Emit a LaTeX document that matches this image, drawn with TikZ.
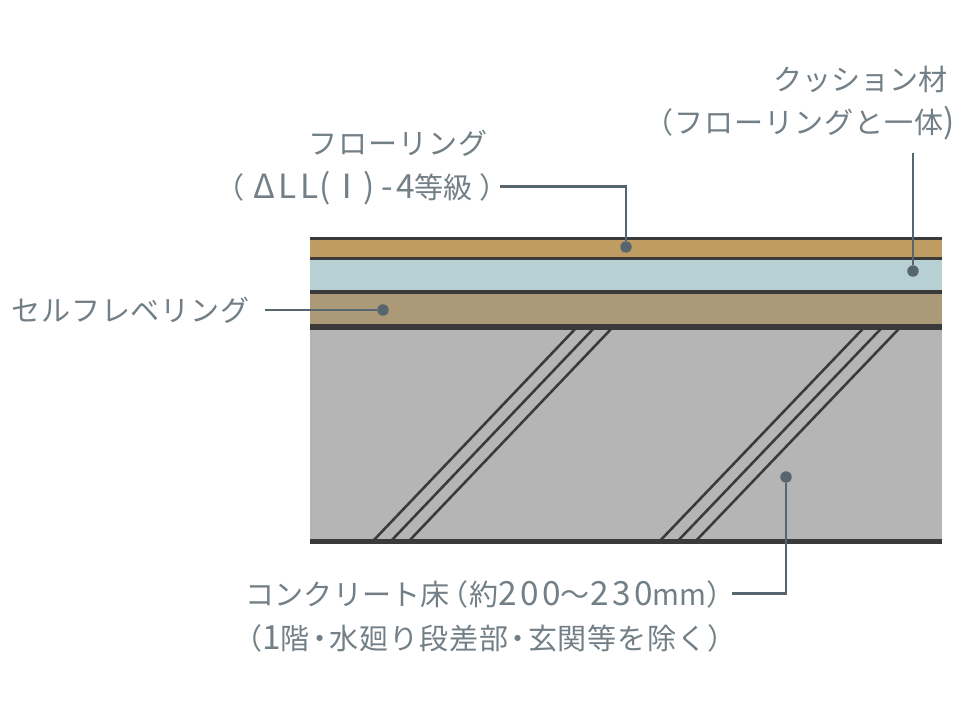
\documentclass[tikz,border=0pt]{standalone}
\usepackage{fontspec}
\setmainfont{Noto Sans CJK JP}
\newfontfamily\trackfont[LetterSpace=3]{Noto Sans CJK JP}
\newfontfamily\latfont[LetterSpace=11]{Noto Sans CJK JP}
\usepackage{tikz}
\definecolor{woodcol}{HTML}{BF9C62}
\definecolor{cushcol}{HTML}{B7D0D4}
\definecolor{levelcol}{HTML}{AB9977}
\definecolor{slabcol}{HTML}{B5B5B5}
\definecolor{edgecol}{HTML}{3B3A3A}
\definecolor{leadcol}{HTML}{56656E}
\definecolor{textcol}{HTML}{727F86}
\tikzset{
  edgeline/.style={draw=edgecol},
  rebar/.style={draw=edgecol, line width=1.9pt},
  lead/.style={draw=leadcol, line width=2.2pt},
  dot/.style={circle, fill=leadcol, minimum size=8.6pt, inner sep=0pt},
  lbl/.style={text=textcol, inner sep=0pt, font=\fontsize{21.8pt}{21.8pt}\selectfont},
}
\newcommand*{\LayerBand}[3]{% #1 = colour, #2 = top, #3 = bottom
\fill [#1] (310,#2) rectangle (942,#3);
}
\newcommand*{\Lat}[1]{{\latfont\fontsize{25pt}{25pt}\selectfont #1}}
\newcommand*{\Nakaguro}{\kern-3.5pt・\kern-3.5pt}
\begin{document}
\begin{tikzpicture}[x=0.75pt,y=-0.75pt]
    \useasboundingbox (0,0) rectangle (960,714);

    \LayerBand{woodcol}{238}{258}
    \LayerBand{cushcol}{258}{292}
    \LayerBand{levelcol}{292}{327}
    \LayerBand{slabcol}{327}{541}

    \foreach \x in {0,18,36} {
        \draw [rebar] (373+\x,541) -- (577+\x,327);
        \draw [rebar] (659.8+\x,541) -- (864.6+\x,327);
    }

    \foreach \y/\w in {238.4/2.0,258.7/2.4,291.9/2.5,327/3.9,541.5/3.6} {
        \draw [edgeline, line width=\w pt] (310,\y) -- (942,\y);
    }

    % dots
    \node [dot] (dotFloor) at (626,247) {};
    \node [dot] (dotCush) at (913,271) {};
    \node [dot] (dotLevel) at (383,310) {};
    \node [dot] (dotSlab) at (786,477) {};

    % labels
    \node [lbl, anchor=base east] (cushA) at (948,90) {クッション材};
    \node [lbl, anchor=base east] (cushB) at (955,133) {{\trackfont （フローリングと一体}\Lat{)}};
    \node [lbl, anchor=base east] (floorA) at (488,154) {{\trackfont フローリング}};
    \node [lbl, anchor=base east] (floorB) at (509,198) {（\kern6.7pt\Lat{ΔLL}\kern0.5pt\Lat{(}{\fontsize{25pt}{25pt}\selectfont Ⅰ}\Lat{)}\kern4.5pt\Lat{-4}等級\kern5pt）};
    \node [lbl, anchor=base west] (levelA) at (11,321) {{\trackfont セルフレベリング}};
    \node [lbl, anchor=base east] (slabA) at (736,605) {コンクリート床\kern-7pt（約\Lat{200}～\Lat{230}mm）};
    \node [lbl, anchor=base east] (slabB) at (737,649) {\trackfont （\Lat{1}階\Nakaguro 水廻り段差部\Nakaguro 玄関等を除く）};

    \coordinate (startFloor) at (500,186.5);
    \coordinate (startCush) at (913,153);
    \coordinate (startLevel) at (265,310);
    \coordinate (startSlab) at (732,593.5);

    \draw [lead] (startFloor) -| (dotFloor);
    \draw [lead] (startCush) -- (dotCush);
    \draw [lead] (startLevel) -- (dotLevel);
    \draw [lead] (startSlab) -| (dotSlab);
\end{tikzpicture}
\end{document}
